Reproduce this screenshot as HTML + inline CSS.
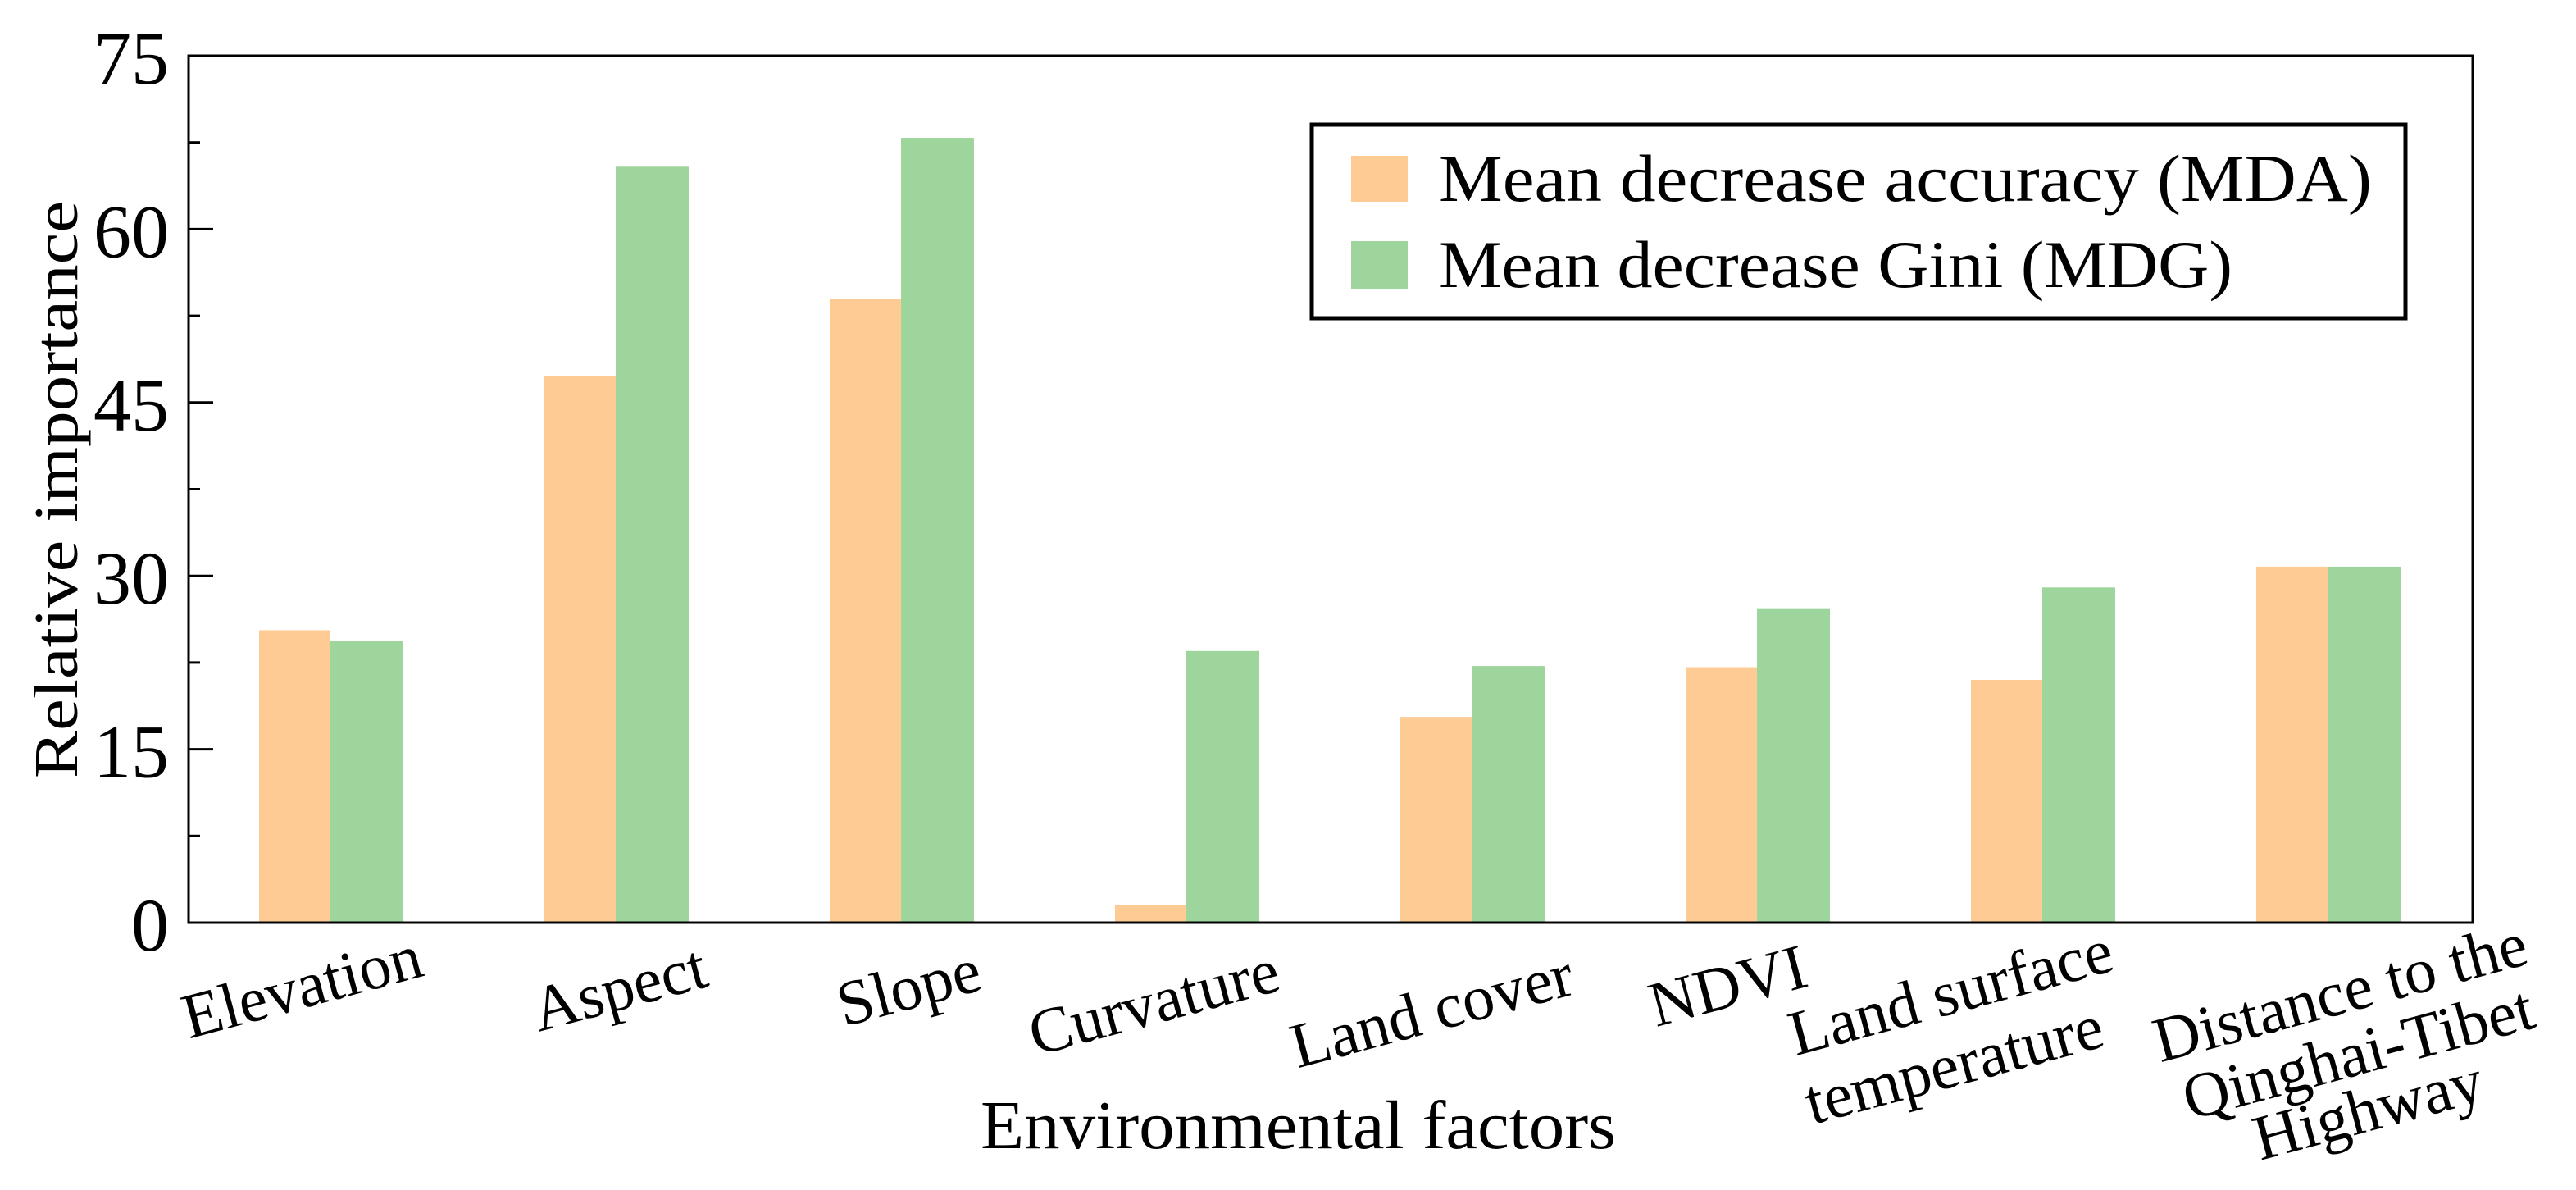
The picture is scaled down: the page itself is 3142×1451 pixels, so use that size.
<!DOCTYPE html>
<html><head><meta charset="utf-8"><style>
html,body{margin:0;padding:0;background:#fff;}
svg{display:block;font-family:"Liberation Serif","Times New Roman",serif;}
</style></head><body>
<svg id="chart" width="3142" height="1451" viewBox="0 0 3142 1451" xmlns="http://www.w3.org/2000/svg">
<rect x="0" y="0" width="3142" height="1451" fill="#fff"/>
<g id="bars"></g>
<g id="axes"></g>
<g>
  <rect x="1600" y="152" width="1334" height="236" fill="#fff" stroke="#000" stroke-width="5"/>
  <rect x="1648" y="190" width="69" height="56" fill="#FDCB93"/>
  <text x="1755" y="245" font-size="82" textLength="1138" lengthAdjust="spacingAndGlyphs">Mean decrease accuracy (MDA)</text>
  <rect x="1648" y="294" width="69" height="58" fill="#9DD59C"/>
  <text x="1755" y="350" font-size="82" textLength="968" lengthAdjust="spacingAndGlyphs">Mean decrease Gini (MDG)</text>
</g>
<text transform="translate(94,597) rotate(-90)" text-anchor="middle" font-size="76" textLength="704" lengthAdjust="spacingAndGlyphs">Relative importance</text>
<text x="1196" y="1400" font-size="84" textLength="775" lengthAdjust="spacingAndGlyphs">Environmental factors</text>
<g font-size="78" text-anchor="middle">
  <text transform="translate(375,1228) rotate(-15)">Elevation</text>
  <text transform="translate(762,1230) rotate(-15)">Aspect</text>
  <text transform="translate(1115,1229) rotate(-15)">Slope</text>
  <text transform="translate(1414,1247) rotate(-15)">Curvature</text>
  <text transform="translate(1753,1257) rotate(-15)">Land cover</text>
  <text transform="translate(2114,1227) rotate(-15)">NDVI</text>
  <text transform="translate(2386,1235) rotate(-15)">Land surface</text>
  <text transform="translate(2390,1323) rotate(-15)">temperature</text>
  <text transform="translate(2861,1235) rotate(-15)">Distance to the</text>
  <text transform="translate(2883,1309) rotate(-15)">Qinghai-Tibet</text>
  <text transform="translate(2895,1378) rotate(-15)">Highway</text>
</g>
</svg>
<script>
const categories = ["Elevation","Aspect","Slope","Curvature","Land cover","NDVI","Land surface temperature","Distance to the Qinghai-Tibet Highway"];
const mdaValues = [25.3, 47.3, 54.0, 1.5, 17.8, 22.1, 21.0, 30.8];
const mdgValues = [24.4, 65.4, 67.9, 23.5, 22.2, 27.2, 29.0, 30.8];
const yTickLabels = [0, 15, 30, 45, 60, 75];

const NS = "http://www.w3.org/2000/svg";
const plotL = 230, plotR = 3016, plotT = 68, plotB = 1125;
const yMax = 75;
const groupStart = 316, groupStep = 348, barW = 87;
function yScale(v){ return plotB - (v / yMax) * (plotB - plotT); }
function xGroup(i){ return groupStart + i * groupStep; }

const bars = document.getElementById("bars");
categories.forEach((c, i) => {
  const a = document.createElementNS(NS, "rect");
  a.setAttribute("x", xGroup(i));
  a.setAttribute("y", yScale(mdaValues[i]));
  a.setAttribute("width", barW);
  a.setAttribute("height", plotB - yScale(mdaValues[i]));
  a.setAttribute("fill", "#FDCB93");
  
  
  bars.appendChild(a);
  const g = document.createElementNS(NS, "rect");
  g.setAttribute("x", xGroup(i) + barW);
  g.setAttribute("y", yScale(mdgValues[i]));
  g.setAttribute("width", barW + 2);
  g.setAttribute("height", plotB - yScale(mdgValues[i]));
  g.setAttribute("fill", "#9DD59C");
  
  
  bars.appendChild(g);
});

const axes = document.getElementById("axes");
const frame = document.createElementNS(NS, "rect");
frame.setAttribute("x", plotL); frame.setAttribute("y", plotT);
frame.setAttribute("width", plotR - plotL); frame.setAttribute("height", plotB - plotT);
frame.setAttribute("fill", "none"); frame.setAttribute("stroke", "#000"); frame.setAttribute("stroke-width", "3");


axes.appendChild(frame);

for (let k = 0; k < yTickLabels.length; k++) {
  const v = yTickLabels[k];
  const y = yScale(v);
  const t = document.createElementNS(NS, "line");
  t.setAttribute("x1", plotL); t.setAttribute("x2", plotL + 30);
  t.setAttribute("y1", y); t.setAttribute("y2", y);
  t.setAttribute("stroke", "#000"); t.setAttribute("stroke-width", "3");
  
  
  axes.appendChild(t);
  if (k < yTickLabels.length - 1) {
    const ym = yScale((v + yTickLabels[k + 1]) / 2);
    const m = document.createElementNS(NS, "line");
    m.setAttribute("x1", plotL); m.setAttribute("x2", plotL + 14);
    m.setAttribute("y1", ym); m.setAttribute("y2", ym);
    m.setAttribute("stroke", "#000"); m.setAttribute("stroke-width", "3");
    
    
    axes.appendChild(m);
  }
  const lab = document.createElementNS(NS, "text");
  lab.setAttribute("x", 206); lab.setAttribute("y", y + 34);
  lab.setAttribute("text-anchor", "end");
  lab.setAttribute("font-size", "92");
  lab.textContent = String(v);
  
  
  axes.appendChild(lab);
}
</script>
</body></html>
